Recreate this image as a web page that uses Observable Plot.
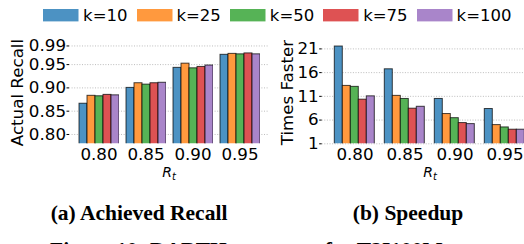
<!DOCTYPE html>
<html><head><meta charset="utf-8">
<script src="https://cdn.jsdelivr.net/npm/d3@7"></script>
<script src="https://cdn.jsdelivr.net/npm/@observablehq/plot@0.6"></script>
<style>
html,body{margin:0;padding:0;background:#fff;overflow:hidden;}
#wrap{position:relative;width:524px;height:244px;overflow:hidden;font-family:"DejaVu Sans";color:#000;}
.abs{position:absolute;}
.lg-swatches{font-family:"DejaVu Sans" !important;font-size:16.5px !important;color:#000;margin:0 !important;min-height:0 !important;line-height:20px;}
.lg-swatch{margin-right:9.2px !important;}
.lg-swatch > svg{margin-right:4.3px !important;}
.rt{font-family:"DejaVu Sans";font-style:italic;font-size:14px;line-height:14px;white-space:nowrap;transform:translateX(-50%);}
.rt span{font-size:10px;position:relative;top:3px;}
.cap{font-family:"Liberation Serif";font-weight:bold;font-size:21.5px;line-height:22px;white-space:nowrap;}
</style></head><body><div id="wrap"></div>
<script>
const rtLabels = ["0.80", "0.85", "0.90", "0.95"];
const kLabels = ["k=10", "k=25", "k=50", "k=75", "k=100"];
const barColors = ["#4c92c3", "#ff993e", "#56b356", "#de5253", "#a985ca"];

// Actual recall per k, over rtLabels
const recallK10  = [0.866, 0.900, 0.943, 0.971];
const recallK25  = [0.883, 0.910, 0.952, 0.973];
const recallK50  = [0.882, 0.907, 0.942, 0.972];
const recallK75  = [0.885, 0.910, 0.945, 0.974];
const recallK100 = [0.884, 0.911, 0.948, 0.972];

// Speedup (times faster) per k, over rtLabels
const speedK10  = [21.5, 16.7, 10.45, 8.33];
const speedK25  = [13.2, 11.1, 7.27, 4.94];
const speedK50  = [13.0, 10.45, 6.4, 4.45];
const speedK75  = [10.3, 8.4, 5.37, 3.97];
const speedK100 = [11.0, 8.8, 5.15, 3.97];

const recallTicks = [0.80, 0.85, 0.90, 0.95, 0.99];
const speedTicks = [1, 6, 11, 16, 21];

const recallSeries = [recallK10, recallK25, recallK50, recallK75, recallK100];
const speedSeries = [speedK10, speedK25, speedK50, speedK75, speedK100];

function toRows(series) {
  return series.flatMap((vals, i) => vals.map((v, j) => ({Rt: rtLabels[j], k: kLabels[i], value: v})));
}

const H = 190, MT = 40.8, MB = 46.7;
const baseStyle = {fontFamily: "DejaVu Sans", fontSize: "16.7px", color: "#000", background: "transparent", overflow: "visible"};
const wrap = document.getElementById("wrap");

function place(el, left, top) {
  el.classList.add("abs");
  el.style.left = left + "px";
  el.style.top = top + "px";
  wrap.appendChild(el);
  return el;
}

function panel({series, ticks, domain, fmt, label, left, width, marginLeft, marginRight, padIn, padOut, labelOffset}) {
  const common = {width, height: H, marginLeft, marginRight, marginTop: MT, marginBottom: MB, style: baseStyle};
  const gridLayer = Plot.plot({
    ...common,
    y: {domain},
    marks: [
      Plot.gridY(ticks, {stroke: "#b5b5b5", strokeOpacity: 1, strokeWidth: 0.9, strokeDasharray: "1,1.6"}),
      Plot.axisY(ticks, {tickFormat: fmt, label, labelAnchor: "center", labelOffset, labelArrow: "none", tickSize: 2.5, tickPadding: 1, fontSize: 16.7})
    ]
  });
  const barLayer = Plot.plot({
    ...common,
    facet: {marginTop: 0, marginBottom: 0, marginLeft: 0, marginRight: 0},
    fx: {domain: rtLabels, paddingInner: padIn, paddingOuter: padOut, label: null, axis: "bottom", tickSize: 0, tickPadding: 4},
    x: {domain: kLabels, padding: 0, axis: null},
    y: {domain, axis: null},
    color: {domain: kLabels, range: barColors},
    marks: [
      Plot.barY(toRows(series), {fx: "Rt", x: "k", y: "value", fill: "k", stroke: "#000", strokeOpacity: 0.72, strokeWidth: 1, clip: true})
    ]
  });
  place(gridLayer, left, 0);
  place(barLayer, left, 0);
}

panel({series: recallSeries, ticks: recallTicks, domain: [0.78, 1.0], fmt: d3.format(".2f"), label: "Actual Recall",
       left: 0, width: 270, marginLeft: 69, marginRight: 2, padIn: 0.138, padOut: 0.178, labelOffset: 58});
panel({series: speedSeries, ticks: speedTicks, domain: [1, 22.6], fmt: d3.format("d"), label: "Times Faster",
       left: 270, width: 270, marginLeft: 51.7, marginRight: 1.6, padIn: 0.132, padOut: 0.2, labelOffset: 41});

// legend
const legend = Plot.legend({color: {domain: kLabels, range: barColors}, swatchWidth: 35.5, swatchHeight: 12.4, className: "lg"});
place(legend, 43.3, 5.5);

// x-axis labels R_t
function rtLabel(cx) {
  const d = document.createElement("div");
  d.className = "rt";
  d.innerHTML = "R<span>t</span>";
  place(d, cx, 164.5);
}
rtLabel(169);
rtLabel(430);

// captions
function caption(text, x, top, center) {
  const d = document.createElement("div");
  d.className = "cap";
  d.textContent = text;
  if (center) d.style.transform = "translateX(-50%)";
  place(d, x, top);
}
caption("(a) Achieved Recall", 139, 201.7, true);
caption("(b) Speedup", 408, 201.7, true);
caption("Figure 10: DARTH summary for T2I100M", 50, 239.3, false);
</script></body></html>
